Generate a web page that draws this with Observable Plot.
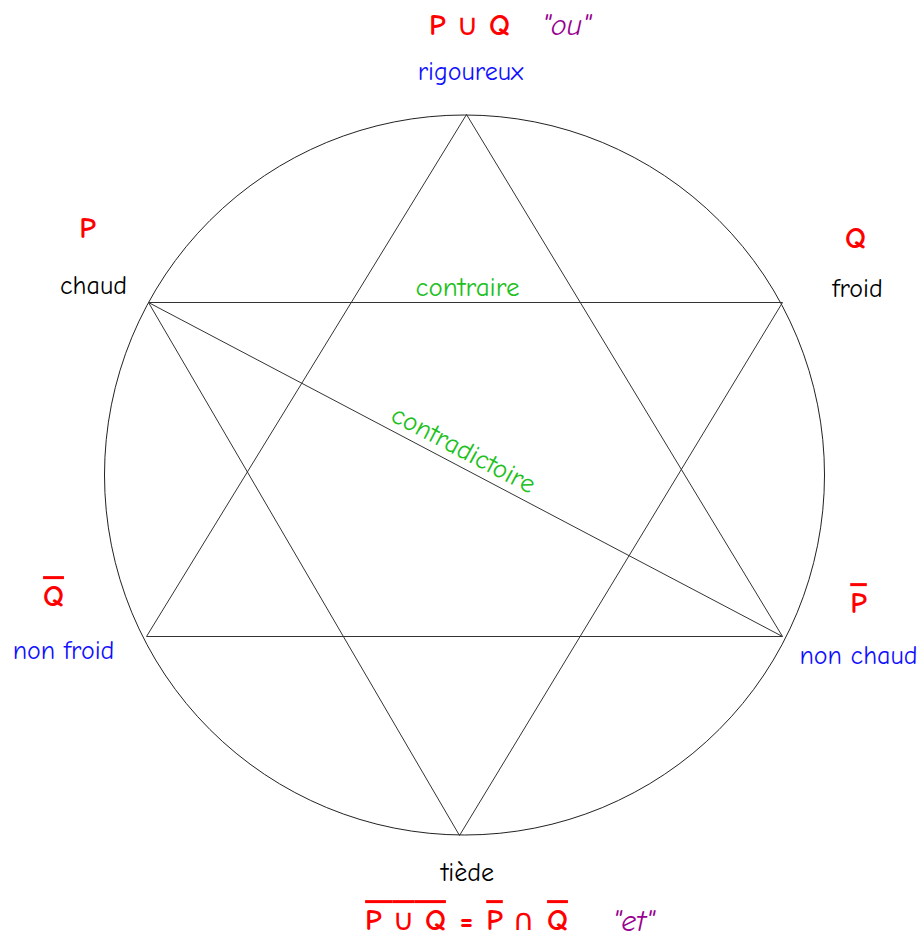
<!DOCTYPE html>
<html>
<head>
<meta charset="utf-8">
<script src="https://cdn.jsdelivr.net/npm/d3@7"></script>
<script src="https://cdn.jsdelivr.net/npm/@observablehq/plot@0.6"></script>
<style>
  html, body { margin: 0; padding: 0; background: #fff; }
  #chart svg { display: block; }
</style>
</head>
<body>
<div id="chart"></div>
<script>
// ---- data (pixel-space coordinates) ----
const circleCenter = [{x: 464, y: 474.5}];
const circleRadius = 360;

const vertexNames = ["top", "upperLeft", "upperRight", "lowerLeft", "lowerRight", "bottom"];
const vertexX = [466, 148, 782, 146, 782, 459];
const vertexY = [114, 302, 302, 636, 636, 835];

// segments as pairs of vertex indices
const segmentFrom = [0, 0, 3, 1, 1, 2, 1];
const segmentTo   = [3, 4, 4, 2, 5, 5, 4];

// red symbol labels
const symbolText = ["P ∪ Q", "P", "Q", "Q", "P", "P ∪ Q", "=", "P", "∩", "Q"];
const symbolX    = [469, 87, 855, 53, 858, 405, 466, 494, 523, 557];
const symbolY    = [25, 228, 238, 596, 603, 920, 920, 920, 920, 920];
const symbolOver = [false, false, false, true, true, true, false, true, false, true];

// quoted words
const quoteText = ["\"ou\"", "\"et\""];
const quoteX = [566, 633];
const quoteY = [25, 921];

// term labels
const termText  = ["rigoureux", "chaud", "froid", "non froid", "non chaud", "tiède"];
const termX     = [470, 93, 857, 63, 858, 467];
const termY     = [71, 285, 288, 650, 655, 872];
const termGroup = ["blue", "black", "black", "blue", "blue", "black"];

// relation labels
const relationText = ["contraire", "contradictoire"];
const relationX = [467, 463];
const relationY = [287, 449];
const relationAngle = [0, 27.8];

// ---- build tables ----
const segments = segmentFrom.map((a, i) => ({
  x1: vertexX[a], y1: vertexY[a], x2: vertexX[segmentTo[i]], y2: vertexY[segmentTo[i]]
}));
const symbols = symbolText.map((t, i) => ({text: t, x: symbolX[i], y: symbolY[i], over: symbolOver[i]}));
const quotes = quoteText.map((t, i) => ({text: t, x: quoteX[i], y: quoteY[i]}));
const terms = termText.map((t, i) => ({text: t, x: termX[i], y: termY[i], group: termGroup[i]}));
const relations = relationText.map((t, i) => ({text: t, x: relationX[i], y: relationY[i], angle: relationAngle[i]}));

const FONT = "'Comic Sans MS', 'Comic Neue', 'DejaVu Sans', sans-serif";
const RED = "#ff0000", BLUE = "#1010ff", GREEN = "#20c020", PURPLE = "#990090";

const chart = Plot.plot({
  width: 918,
  height: 941,
  margin: 0,
  x: {domain: [0, 918], range: [0, 918], axis: null},
  y: {domain: [0, 941], range: [0, 941], axis: null},
  style: {fontFamily: FONT, background: "#fff"},
  marks: [
    Plot.dot(circleCenter, {x: "x", y: "y", r: circleRadius, stroke: "#222", strokeWidth: 1, fill: "none"}),
    Plot.link(segments, {x1: "x1", y1: "y1", x2: "x2", y2: "y2", stroke: "#333", strokeWidth: 1}),
    Plot.text(symbols.filter(d => !d.over), {x: "x", y: "y", text: "text", fill: RED, fontSize: 30, fontWeight: "bold", fontFamily: FONT, ariaDescription: "symbol"}),
    Plot.text(symbols.filter(d => d.over), {x: "x", y: "y", text: "text", fill: RED, fontSize: 30, fontWeight: "bold", fontFamily: FONT, ariaDescription: "overline"}),
    Plot.text(quotes, {x: "x", y: "y", text: "text", fill: PURPLE, fontSize: 30, fontStyle: "italic", fontFamily: FONT}),
    Plot.text(terms.filter(d => d.group === "blue"), {x: "x", y: "y", text: "text", fill: BLUE, fontSize: 26, fontFamily: FONT}),
    Plot.text(terms.filter(d => d.group === "black"), {x: "x", y: "y", text: "text", fill: "#000", fontSize: 26, fontFamily: FONT}),
    Plot.text(relations, {x: "x", y: "y", text: "text", rotate: "angle", fill: GREEN, fontSize: 27, fontFamily: FONT})
  ]
});

const svgSel = d3.select(chart);
svgSel.selectAll("g[aria-description=overline] text")
  .style("text-decoration", "overline")
  .style("text-decoration-thickness", "3px");

// render the set operators in a lighter glyph (same font stack and size, so the overline stays continuous)
svgSel.selectAll("g[aria-description=overline] text, g[aria-description=symbol] text").each(function () {
  const el = d3.select(this);
  const txt = el.text();
  if (!/[∪∩]/.test(txt)) return;
  el.text(null);
  txt.split(/([∪∩])/).forEach(part => {
    if (!part) return;
    const ts = el.append("tspan").text(part);
    if (part === "∪" || part === "∩") ts.attr("font-weight", "normal");
  });
});

document.getElementById("chart").appendChild(chart);
</script>
</body>
</html>
